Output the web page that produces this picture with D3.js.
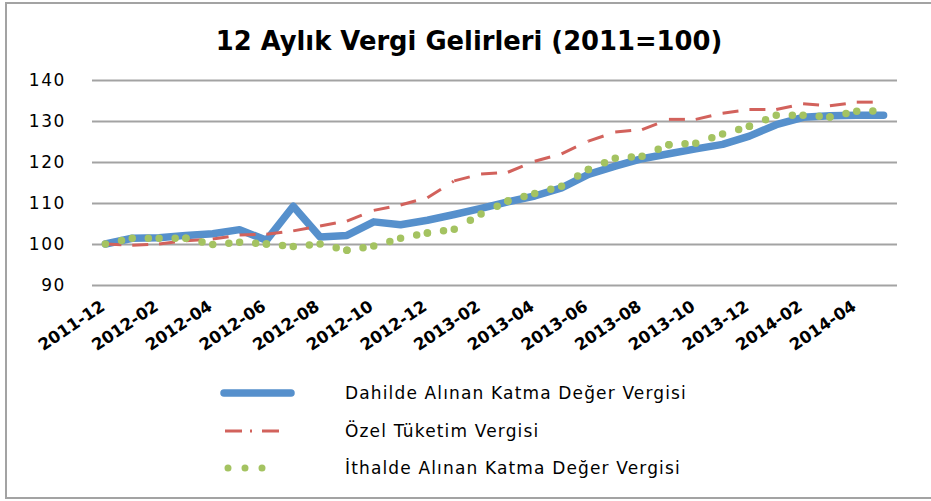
<!DOCTYPE html>
<html>
<head>
<meta charset="utf-8">
<script src="https://cdn.jsdelivr.net/npm/d3@7/dist/d3.min.js"></script>
<style>
  body { margin: 0; background: #fff; }
  svg { display: block; font-family: "DejaVu Sans", sans-serif; }
</style>
</head>
<body>
<div id="chart"></div>
<script>
// months on the category axis
const months = ['2011-12','2012-01','2012-02','2012-03','2012-04','2012-05','2012-06','2012-07','2012-08','2012-09',
  '2012-10','2012-11','2012-12','2013-01','2013-02','2013-03','2013-04','2013-05','2013-06','2013-07',
  '2013-08','2013-09','2013-10','2013-11','2013-12','2014-01','2014-02','2014-03','2014-04','2014-05'];

const dahilde = [100, 101.4, 101.5, 102.1, 102.5, 103.5, 100.9, 109.2, 101.7, 102.1,
  105.4, 104.7, 105.8, 107.2, 108.7, 110.3, 111.7, 113.7, 117.0, 119.0,
  120.8, 122.0, 123.2, 124.3, 126.3, 129.1, 130.9, 131.3, 131.4, 131.4];

const ozel = [100, 99.7, 100.0, 100.8, 101.2, 102.2, 102.4, 103.2, 104.4, 105.6,
  108.2, 109.5, 111.3, 115.4, 117.1, 117.5, 120.2, 122.0, 125.1, 127.3,
  127.9, 130.4, 130.4, 131.9, 132.8, 132.8, 134.2, 133.7, 134.6, 134.6];

const ithalde = [100, 101.4, 101.4, 101.4, 99.9, 100.4, 100.0, 99.4, 100.0, 98.5,
  99.5, 101.4, 102.7, 103.6, 107.3, 110.5, 112.3, 114.1, 118.2, 120.9,
  121.4, 124.2, 124.6, 126.8, 128.7, 131.4, 131.4, 131.0, 132.4, 132.5];

const yTicks = [90, 100, 110, 120, 130, 140];
const xTickLabels = months.filter((m, i) => i % 2 === 0);

const seriesNames = ['Dahilde Alınan Katma Değer Vergisi', 'Özel Tüketim Vergisi', 'İthalde Alınan Katma Değer Vergisi'];

const width = 931, height = 501;
const plot = {left: 92, right: 897, top: 80, bottom: 285};

const svg = d3.select('#chart').append('svg')
  .attr('width', width)
  .attr('height', height);

// frame
svg.append('rect')
  .attr('x', 6).attr('y', 3)
  .attr('width', 960).attr('height', 495)
  .attr('fill', '#fff')
  .attr('stroke', '#a3a3a3')
  .attr('stroke-width', 2);

svg.append('text')
  .attr('x', 469).attr('y', 50)
  .attr('text-anchor', 'middle')
  .attr('font-size', 25.8)
  .attr('font-weight', 'bold')
  .attr('fill', '#000')
  .text('12 Aylık Vergi Gelirleri (2011=100)');

const x = d3.scalePoint().domain(months).range([plot.left, plot.right]).padding(0.5);
const y = d3.scaleLinear().domain([90, 140]).range([plot.bottom, plot.top]);

// gridlines + y labels
const yAxis = d3.axisLeft(y).tickValues(yTicks).tickSize(-(plot.right - plot.left)).tickPadding(26);
const gy = svg.append('g')
  .attr('transform', `translate(${plot.left},0)`)
  .call(yAxis);
gy.select('.domain').remove();
gy.selectAll('.tick line').attr('stroke', '#a3a3a3').attr('stroke-width', 1.8);
gy.selectAll('.tick text')
  .attr('font-size', 17)
  .attr('letter-spacing', 1.6)
  .attr('fill', '#000')
  .attr('font-family', '"DejaVu Sans", sans-serif');

// x labels (every second month)
const xAxis = d3.axisBottom(x).tickValues(xTickLabels).tickSize(0).tickPadding(0);
const gx = svg.append('g')
  .attr('transform', `translate(0,${plot.bottom})`)
  .call(xAxis);
gx.select('.domain').remove();
gx.selectAll('.tick text')
  .attr('font-size', 16.5)
  .attr('font-weight', 'bold')
  .attr('fill', '#000')
  .attr('font-family', '"DejaVu Sans", sans-serif')
  .attr('text-anchor', 'end')
  .attr('dy', 0)
  .attr('y', 0)
  .attr('transform', 'translate(0,24) rotate(-34)');

const line = d3.line().x((d, i) => x(months[i])).y(d => y(d));

// blue solid
svg.append('path')
  .datum(dahilde)
  .attr('d', line)
  .attr('fill', 'none')
  .attr('stroke', '#5690cc')
  .attr('stroke-width', 7.5)
  .attr('stroke-linejoin', 'round')
  .attr('stroke-linecap', 'round');

// dash patterns restart on every segment, like the office chart does
function segments(values) {
  return values.slice(1).map((v, i) => [[x(months[i]), y(values[i])], [x(months[i + 1]), y(v)]]);
}
const segLen = s => Math.hypot(s[1][0] - s[0][0], s[1][1] - s[0][1]);

svg.append('g').selectAll('path')
  .data(segments(ozel))
  .join('path')
  .attr('d', d => d3.line()(d))
  .attr('fill', 'none')
  .attr('stroke', '#d2625c')
  .attr('stroke-width', 3)
  .attr('stroke-dasharray', '16 13 2 100');

svg.append('g').selectAll('path')
  .data(segments(ithalde))
  .join('path')
  .attr('d', d => d3.line()(d))
  .attr('fill', 'none')
  .attr('stroke', '#a4c361')
  .attr('stroke-width', 7.5)
  .attr('stroke-linecap', 'round')
  .attr('stroke-dasharray', d => `0 ${segLen(d) * 0.6} 0 ${segLen(d) * 0.4}`);

// legend
const legend = svg.append('g');
const rows = [393, 431, 468];

legend.append('line')
  .attr('x1', 224).attr('x2', 291).attr('y1', rows[0]).attr('y2', rows[0])
  .attr('stroke', '#5690cc').attr('stroke-width', 7.5).attr('stroke-linecap', 'round');

legend.append('line')
  .attr('x1', 225).attr('x2', 280).attr('y1', rows[1]).attr('y2', rows[1])
  .attr('stroke', '#d2625c').attr('stroke-width', 3)
  .attr('stroke-dasharray', '17 8 2 10');

legend.append('line')
  .attr('x1', 228).attr('x2', 279).attr('y1', rows[2]).attr('y2', rows[2])
  .attr('stroke', '#a4c361').attr('stroke-width', 7).attr('stroke-linecap', 'round')
  .attr('stroke-dasharray', '0 17');

legend.selectAll('text')
  .data(seriesNames)
  .join('text')
  .attr('x', 345)
  .attr('y', (d, i) => rows[i])
  .attr('dy', '0.36em')
  .attr('font-size', 17)
  .attr('letter-spacing', 1.15)
  .attr('fill', '#000')
  .text(d => d);
</script>
</body>
</html>
